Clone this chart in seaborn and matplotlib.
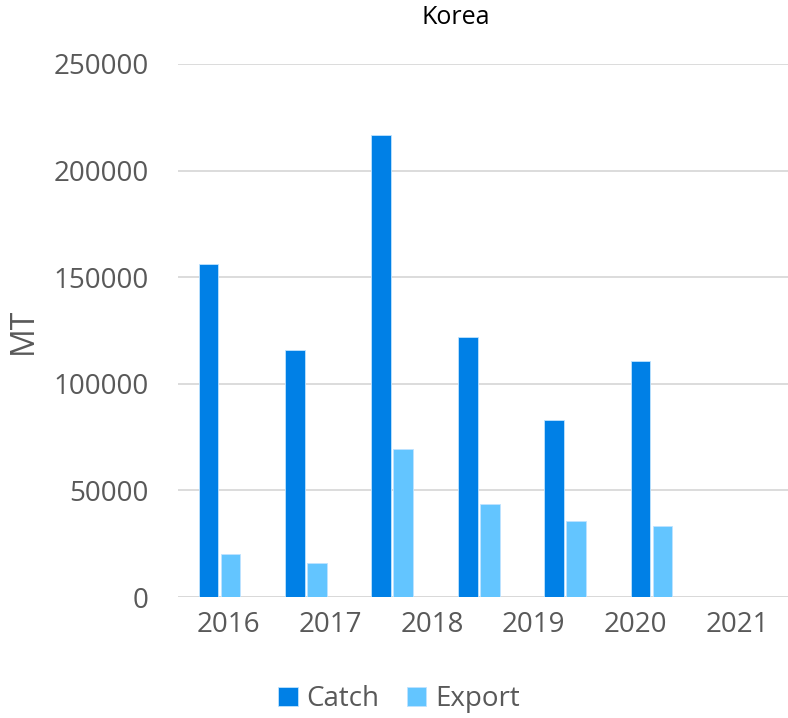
import matplotlib
matplotlib.use('Agg')
import matplotlib.pyplot as plt
import seaborn as sns
import pandas as pd
import numpy as np

years = ['2016', '2017', '2018', '2019', '2020', '2021']
catch = [156000, 115700, 216500, 121800, 82900, 110700]
export = [20300, 16100, 69300, 43700, 35600, 33300]

df = pd.DataFrame({
    'Year': years * 2,
    'MT': catch + export,
    'Series': ['Catch'] * len(years) + ['Export'] * len(years),
})

sns.set_style('white')
plt.rcParams['font.family'] = ['Open Sans', 'DejaVu Sans']
grey = '#595959'

fig = plt.figure(figsize=(7.88, 7.18), dpi=100)
ax = fig.add_axes([178 / 788, 1 - 597 / 718, 610 / 788, 533 / 718])

sns.barplot(data=df, x='Year', y='MT', hue='Series',
            palette=['#0080E6', '#63C5FF'], saturation=1, width=0.51, gap=0.1,
            edgecolor='#BFE3FF', linewidth=0.6, ax=ax, legend=True)

ax.set_ylim(0, 250000)
ax.set_xlim(-0.48, 6.58)
ax.set_yticks(np.arange(0, 250001, 50000))
ax.yaxis.grid(True, color='#D9D9D9', linewidth=1.3)
ax.set_axisbelow(True)
for s in ax.spines.values():
    s.set_visible(False)
ax.axhline(0, color='#D9D9D9', linewidth=1.3, zorder=0)

# labels sit at the centre of equal slots over the full axis width
slots = np.linspace(-0.48, 6.58, 2 * len(years) + 1)[1::2]
ax.set_xticks(slots)
ax.set_xticklabels(years)
ax.tick_params(axis='both', length=0, labelsize=20, colors=grey, pad=10)
ax.tick_params(axis='y', pad=21)
ax.set_xlabel('')
ax.set_ylabel('MT', fontsize=23, color=grey)
ax.yaxis.set_label_coords(-0.226, 0.5)

fig.text(456 / 788, 1 - 17 / 718, 'Korea', ha='center', va='center',
         fontsize=18, color='#000000')

handles, labels = ax.get_legend_handles_labels()
ax.get_legend().remove()
fig.legend(handles, labels, loc='center', bbox_to_anchor=(399 / 788, 1 - 699 / 718),
           ncol=2, frameon=False, fontsize=20, labelcolor=grey,
           handlelength=0.7, handleheight=0.7, handletextpad=0.3, columnspacing=1.0)

fig.savefig('out.png', dpi=100)
